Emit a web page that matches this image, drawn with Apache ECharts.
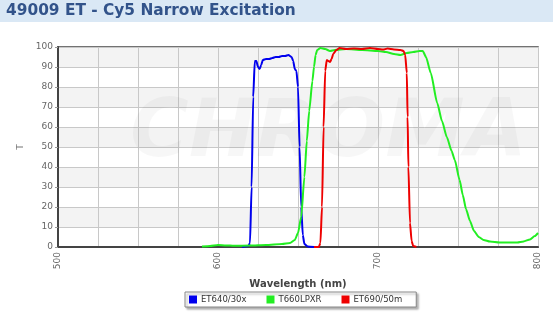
<!DOCTYPE html>
<html><head><meta charset="utf-8">
<script src="https://cdn.jsdelivr.net/npm/echarts@6/dist/echarts.min.js"></script>
<style>html,body{margin:0;padding:0;background:#fff;}#c{width:553px;height:319px;}</style>
</head><body><div id="c"></div>
<script>
const titleText = '49009 ET - Cy5 Narrow Excitation';
const seriesNames = ['ET640/30x', 'T660LPXR', 'ET690/50m'];
const xTicks = [500, 600, 700, 800];
const yTicks = [0, 10, 20, 30, 40, 50, 60, 70, 80, 90, 100];

const blue = [[615,0],[619,0.5],[620,2],[621,30],[622,75],[623,93],[624,93],[625,90],[626,89],[627,91],[628,93.5],[630,94],[632,94],[634,94.5],[636,95],[638,95],[640,95.5],[642,95.5],[644,96],[646,95],[647,93],[648,89],[649,88],[650,80],[651,50],[652,20],[653,6],[654,1.5],[656,0.3],[660,0]];

const green = [[590,0.2],[595,0.5],[600,1],[605,0.8],[610,0.6],[620,0.7],[630,1],[640,1.5],[645,2],[648,3.5],[650,7],[652,15],[654,35],[655.5,53],[657,68],[659,83],[660,90],[661,96],[662,98.5],[664,99.5],[667,99],[670,98],[673,98.5],[680,99],[690,98.5],[700,98],[705,97.5],[710,96.5],[714,96],[718,97],[722,97.5],[726,98],[728,98],[730,95],[733,87],[737,72],[740,63],[743,55],[746,48],[748,43.5],[751,33.5],[753,26],[755,19],[757.5,13],[760,8],[763,5],[766,3.5],[770,2.7],[776,2.2],[782,2.2],[787,2.3],[791,2.8],[795,3.8],[798,5.5],[800,7]];

const red = [[660,0],[663,0],[664,2],[665,20],[666,60],[667,88],[668,93.5],[669,93],[670,92.5],[671,94],[672,96.5],[674,98.5],[676,99.5],[680,99],[685,99.3],[690,99],[695,99.5],[700,99],[703,98.7],[706,99.2],[710,98.8],[714,98.5],[716,98],[717,96],[718,87],[718.5,65],[719,40],[720,12],[721,3],[722,0.5],[724,0]];

const colors = ['#0000ee', '#22ee22', '#ee0000'];
const chart = echarts.init(document.getElementById('c'), null, {renderer: 'canvas'});
function mk(name, data, color) {
  return {name, type: 'line', data, showSymbol: false, symbol: 'none',
    lineStyle: {color, width: 2}, itemStyle: {color}, smooth: 0.2, smoothMonotone: 'x', z: 3};
}
chart.setOption({
  animation: false,
  backgroundColor: '#fff',
  graphic: [
    {type: 'rect', left: 0, top: 0, shape: {width: 553, height: 22}, style: {fill: '#dae8f5'}, z: -10},
    {type: 'text', left: 6, top: 3, style: {text: titleText, fill: '#32538a', font: 'bold 15.4px "DejaVu Sans", Verdana, sans-serif'}},
    {type: 'text', left: 130, top: 95, z: 1, silent: true,
      style: {text: 'CHROMA', fill: 'rgba(0,0,0,0.03)', font: 'italic bold 80px "DejaVu Sans", sans-serif'}}
  ],
  grid: {left: 58, right: 15, top: 47, bottom: 72, show: true, borderColor: '#444', borderWidth: 1.5, backgroundColor: 'transparent'},
  legend: {
    top: 292, left: 185, itemWidth: 8, itemHeight: 8, itemGap: 20,
    icon: 'rect', borderColor: '#888', borderWidth: 1, padding: [3, 14, 3, 4],
    backgroundColor: '#fff', shadowColor: 'rgba(0,0,0,0.3)', shadowBlur: 2, shadowOffsetX: 2, shadowOffsetY: 2,
    textStyle: {fontSize: 8.5, color: '#333', padding: [0, 0, 0, -1], fontFamily: '"DejaVu Sans", Verdana, sans-serif'},
    data: seriesNames
  },
  xAxis: {
    type: 'value', min: 500, max: 800, interval: 25,
    name: 'Wavelength (nm)', nameLocation: 'middle', nameGap: 32,
    nameTextStyle: {fontWeight: 'bold', fontSize: 10, color: '#444', fontFamily: '"DejaVu Sans", Verdana, sans-serif'},
    axisLine: {lineStyle: {color: '#444', width: 2}},
    axisTick: {show: false},
    axisLabel: {rotate: 90, fontSize: 9, color: '#666', margin: 5,
      fontFamily: '"DejaVu Sans", Verdana, sans-serif',
      formatter: v => xTicks.includes(v) ? String(v) : ''},
    splitLine: {show: true, lineStyle: {color: '#c8c8c8', width: 1}}
  },
  yAxis: {
    type: 'value', min: 0, max: 100, interval: 10,
    name: 'T', nameLocation: 'middle', nameGap: 33,
    nameTextStyle: {fontSize: 9, color: '#777', fontFamily: '"DejaVu Sans", Verdana, sans-serif'},
    axisLine: {show: true, lineStyle: {color: '#444', width: 2}},
    axisTick: {show: true, length: 3, lineStyle: {color: '#999'}},
    axisLabel: {fontSize: 9, color: '#666', margin: 5, fontFamily: '"DejaVu Sans", Verdana, sans-serif',
      formatter: v => yTicks.includes(v) ? String(v) : ''},
    splitLine: {show: true, lineStyle: {color: '#c8c8c8', width: 1}},
    splitArea: {show: true, areaStyle: {color: ['#ffffff', '#f3f3f3']}}
  },
  series: [mk(seriesNames[0], blue, colors[0]), mk(seriesNames[1], green, colors[1]), mk(seriesNames[2], red, colors[2])]
});
</script></body></html>
